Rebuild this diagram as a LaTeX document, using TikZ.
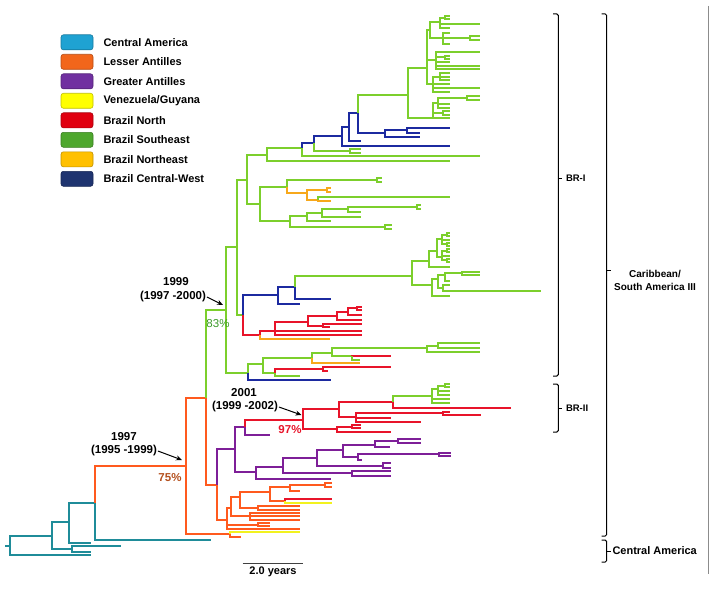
\documentclass[tikz,border=0pt]{standalone}
\usepackage{fontspec}
\setmainfont{Liberation Sans}
\usetikzlibrary{arrows.meta}

\definecolor{camC}{HTML}{1F8C99}
\definecolor{lantC}{HTML}{FF5A1E}
\definecolor{gantC}{HTML}{7E1F98}
\definecolor{venguC}{HTML}{F2F21E}
\definecolor{brnC}{HTML}{E8142A}
\definecolor{brseC}{HTML}{7CCF2C}
\definecolor{brneC}{HTML}{F7A81B}
\definecolor{brcwC}{HTML}{1C2AA0}
\definecolor{keyCam}{HTML}{1FA2D2}
\definecolor{keyLant}{HTML}{F2661B}
\definecolor{keyGant}{HTML}{7030A0}
\definecolor{keyVengu}{HTML}{FFFF00}
\definecolor{keyBrn}{HTML}{E00010}
\definecolor{keyBrse}{HTML}{4EA72E}
\definecolor{keyBrne}{HTML}{FFC000}
\definecolor{keyBrcw}{HTML}{1F3470}
\definecolor{pct75}{HTML}{B4501E}
\definecolor{pct83}{HTML}{3C9A2A}

% one branch of the tree: elbow from parent to a new named node
\newcommand{\clade}[4]{\coordinate (#3) at (#4); \draw[#1] (#2) |- (#3);}
% a tip branch
\newcommand{\twig}[3]{\draw[#1] (#2) |- (#3);}

\begin{document}
\begin{tikzpicture}
            [x=1pt,y=-1pt,line width=2pt,
            cam/.style={color=camC},lant/.style={color=lantC},gant/.style={color=gantC},
            vengu/.style={color=venguC},brn/.style={color=brnC},brse/.style={color=brseC},
            brne/.style={color=brneC},brcw/.style={color=brcwC},
            keybox/.style={rectangle,rounded corners=2.5pt,minimum width=32pt,minimum height=15pt,line width=0.6pt},
            keytext/.style={anchor=west,inner sep=0pt,font=\bfseries\fontsize{11}{12}\selectfont},
            datelbl/.style={inner sep=0pt,font=\bfseries\fontsize{11.5}{13}\selectfont},
            datearrow/.style={-{Stealth[length=6pt,width=5pt]},line width=1pt,black},
            pct/.style={inner sep=0pt,font=\bfseries\fontsize{11.5}{13}\selectfont},
            bracket/.style={line width=1pt,black,rounded corners=1.5pt},
            grplbl/.style={inner sep=0pt,align=center,font=\bfseries\fontsize{10}{13}\selectfont}]
            \useasboundingbox (0,0) rectangle (714,591);
            % legend
            \foreach \col/\name [count=\i] in {keyCam/Central America,keyLant/Lesser Antilles,
                keyGant/Greater Antilles,keyVengu/{Venezuela/Guyana},keyBrn/Brazil North,
                keyBrse/Brazil Southeast,keyBrne/Brazil Northeast,keyBrcw/Brazil Central-West}
            {
                \node[keybox,fill=\col,draw=\col!75!black] (key\i) at (77,{22.8+19.5*\i}) {};
                \node[keytext] (keylbl\i) at (102.5,{22.8+19.5*\i}) {\name};
            }
            % Central America root
            \coordinate (root) at (10,546);
            \draw[cam] (5,546) -- (root);
            \clade{cam}{root}{c1}{52,536}
            \twig{cam}{root}{91,555}
            \clade{cam}{c1}{c2}{69,522}
            \clade{cam}{c1}{c3}{72,549}
            \twig{cam}{c3}{121,546}
            \twig{cam}{c3}{91,551.5}
            \clade{cam}{c2}{c4}{95,503}
            \twig{cam}{c2}{91,543}
            \clade{lant}{c4}{n97}{186,466}
            \twig{cam}{c4}{211,539.5}
            % Caribbean backbone
            \clade{lant}{n97}{l1}{206,398}
            \clade{lant}{n97}{l2}{230,534}
            \twig{vengu}{l2}{300,531.5}
            \twig{lant}{l2}{241,536.5}
            \clade{brse}{l1}{n99}{226,310}
            \clade{lant}{l1}{l3}{217,485}
            \clade{gant}{l3}{g1}{235,449}
            \clade{lant}{l3}{l4}{226.7,520}
            % Lesser Antilles
            \clade{lant}{l4}{l5}{231,508}
            \clade{lant}{l4}{l6}{258,524.5}
            \twig{lant}{l4}{300,528.5}
            \clade{lant}{l5}{l7}{240,497}
            \clade{lant}{l5}{l8}{250,516}
            \clade{lant}{l7}{l9}{270,492}
            \clade{lant}{l7}{l10}{258,507.5}
            \clade{lant}{l9}{l11}{290,487}
            \clade{lant}{l9}{l12}{285,500.5}
            \clade{lant}{l11}{l13}{325,484.8}
            \twig{lant}{l13}{331.7,482.5}
            \twig{lant}{l13}{331.7,487}
            \twig{lant}{l11}{300,490.5}
            \twig{brn}{l12}{331.7,498.5}
            \twig{vengu}{l12}{331.7,502.5}
            \twig{lant}{l10}{300,506}
            \twig{lant}{l10}{300,509.5}
            \twig{lant}{l8}{300,512.8}
            \twig{lant}{l8}{300,516.2}
            \twig{lant}{l8}{300,519.6}
            \twig{lant}{l6}{270,523}
            \twig{lant}{l6}{270,526}
            % Greater Antilles
            \clade{gant}{g1}{g2}{245,427}
            \clade{gant}{g1}{g3}{256,471.7}
            \clade{brn}{g2}{n01}{303.3,420}
            \twig{gant}{g2}{270,435}
            \clade{gant}{g3}{g4}{283.3,466.7}
            \twig{gant}{g3}{330.7,478.5}
            \clade{gant}{g4}{g5}{316.7,458.3}
            \clade{gant}{g4}{g6}{351.7,473.3}
            \clade{gant}{g5}{g7}{342.7,450}
            \clade{gant}{g5}{g8}{382.7,465.8}
            \clade{gant}{g7}{g9}{375,445}
            \clade{gant}{g7}{g10}{358,456.7}
            \clade{gant}{g9}{g11}{398.3,441}
            \twig{gant}{g11}{421,439.3}
            \twig{gant}{g11}{421,442.7}
            \twig{gant}{g9}{390,447.3}
            \clade{gant}{g10}{g12}{439.3,454.3}
            \twig{gant}{g12}{450.7,452.7}
            \twig{gant}{g12}{450.7,456}
            \twig{gant}{g10}{362,459.5}
            \twig{gant}{g8}{390.7,463.3}
            \twig{gant}{g8}{390.7,468.3}
            \twig{gant}{g6}{390.7,471.3}
            \twig{gant}{g6}{390.7,475.5}
            % BR-II
            \clade{brn}{n01}{r1}{339.3,409.3}
            \clade{brn}{n01}{r2}{337.3,429.3}
            \clade{brn}{r1}{r3}{393.3,401.7}
            \clade{brn}{r1}{r4}{356,417.3}
            \clade{brse}{r3}{r5}{431.7,395.7}
            \twig{brn}{r3}{510.7,408.3}
            \clade{brse}{r5}{r6}{438.3,389}
            \twig{brse}{r5}{450,398.5}
            \twig{brse}{r5}{450,402.5}
            \clade{brse}{r6}{r7}{445,385.5}
            \twig{brse}{r7}{450,384}
            \twig{brse}{r7}{450,387}
            \twig{brse}{r6}{450,391}
            \twig{brse}{r6}{450,394.5}
            \clade{brn}{r4}{r8}{443.3,413.3}
            \twig{brn}{r8}{450,411.7}
            \twig{brn}{r8}{481,415}
            \twig{brn}{r4}{390.7,418}
            \twig{brn}{r4}{420.7,421.5}
            \clade{brn}{r2}{r9}{351.7,426.5}
            \twig{brn}{r9}{361,425}
            \twig{brn}{r9}{361,428}
            \twig{brn}{r2}{390.7,432}
            % BR-I
            \clade{brse}{n99}{s1}{236.7,246.7}
            \clade{brse}{n99}{s2}{248.3,372.7}
            \clade{brse}{s1}{sm}{246.7,180}
            \clade{brse}{s1}{sn}{242.7,315}
            \clade{brse}{sm}{so}{266.7,155}
            \clade{brse}{sm}{sr}{260,204}
            \clade{brse}{so}{sp}{301.7,148.3}
            \twig{brse}{so}{450,160.7}
            \clade{brcw}{sp}{sq}{314.3,143.3}
            \twig{brse}{sp}{480,156}
            \clade{brcw}{sq}{sz}{342.3,136}
            \clade{brse}{sq}{sqf}{350,150.7}
            \twig{brse}{sqf}{361,149}
            \twig{brse}{sqf}{361,152.5}
            \clade{brcw}{sz}{sa}{349,126.7}
            \twig{brcw}{sz}{450,145.7}
            \clade{brcw}{sa}{sb}{358.3,113.3}
            \twig{brcw}{sa}{360.7,140.5}
            \clade{brse}{sb}{top}{408.3,95}
            \clade{brcw}{sb}{sd}{385,133.3}
            \clade{brcw}{sd}{se}{406.7,130}
            \twig{brcw}{se}{450,128.3}
            \twig{brcw}{se}{420,132.5}
            \twig{brcw}{sd}{420,136.7}
            % top Southeast clade
            \clade{brse}{top}{t1}{426.7,68}
            \clade{brse}{top}{t2}{433.3,118}
            \clade{brse}{t1}{t3}{430,30}
            \clade{brse}{t1}{t4}{436,60}
            \clade{brse}{t1}{t5}{433,84}
            \clade{brse}{t3}{t6}{440,22.5}
            \clade{brse}{t3}{t7}{442.7,38}
            \clade{brse}{t6}{t8}{445,18}
            \twig{brse}{t8}{450,16.5}
            \twig{brse}{t8}{450,19.5}
            \twig{brse}{t6}{480,24.3}
            \twig{brse}{t6}{450,28.3}
            \twig{brse}{t7}{450,32.7}
            \clade{brse}{t7}{t9}{470,38.5}
            \twig{brse}{t9}{480,36.5}
            \twig{brse}{t9}{480,40.5}
            \twig{brse}{t7}{450,44}
            \twig{brse}{t4}{480,52.5}
            \clade{brse}{t4}{t10}{445,57.5}
            \twig{brse}{t10}{450,56}
            \twig{brse}{t10}{450,59}
            \twig{brse}{t4}{450,62.5}
            \twig{brse}{t4}{480,66}
            \twig{brse}{t4}{480,69.5}
            \clade{brse}{t5}{t11}{440,77}
            \twig{brse}{t11}{450,73.5}
            \twig{brse}{t11}{450,77}
            \twig{brse}{t11}{450,80.5}
            \twig{brse}{t5}{450,84}
            \twig{brse}{t5}{480,88.5}
            \twig{brse}{t5}{450,92.5}
            \clade{brse}{t2}{t12}{438.3,103.5}
            \clade{brse}{t2}{t13}{443.3,113}
            \twig{brse}{t2}{450,118.5}
            \clade{brse}{t12}{t14}{466.7,98.5}
            \twig{brse}{t14}{480,96.5}
            \twig{brse}{t14}{480,100.5}
            \twig{brse}{t12}{450,104.5}
            \twig{brse}{t12}{450,108}
            \twig{brse}{t13}{450,111.5}
            \twig{brse}{t13}{450,115}
            % Southeast / Northeast clade
            \clade{brse}{sr}{ss}{286.7,187.3}
            \clade{brse}{sr}{sv}{290,220.7}
            \clade{brse}{ss}{ss1}{376.7,180}
            \twig{brse}{ss1}{381.7,178.3}
            \twig{brse}{ss1}{381.7,182}
            \clade{brne}{ss}{st}{306.7,193.3}
            \clade{brne}{st}{st1}{326.7,190}
            \twig{brne}{st1}{330.7,188.3}
            \twig{brne}{st1}{330.7,191.7}
            \clade{brne}{st}{su}{318.3,200}
            \twig{brse}{su}{450,196.7}
            \twig{brne}{su}{330.7,201}
            \clade{brse}{sv}{sw}{307.3,216}
            \clade{brse}{sv}{sv1}{385,226.7}
            \twig{brse}{sv1}{391.7,224.7}
            \twig{brse}{sv1}{391.7,228.7}
            \clade{brse}{sw}{sx}{321.7,213.3}
            \twig{brse}{sw}{330.7,220.7}
            \clade{brse}{sx}{sy}{348.3,209}
            \twig{brse}{sx}{361,216.7}
            \clade{brse}{sy}{sy1}{416.7,206.7}
            \twig{brse}{sy1}{420.7,204.7}
            \twig{brse}{sy1}{420.7,208.7}
            \twig{brse}{sy}{361,211.7}
            % Central-West / North clade
            \clade{brcw}{sn}{u1}{278.3,295}
            \clade{brn}{sn}{u2}{260,335}
            \clade{brcw}{u1}{u3}{295,287.3}
            \twig{brcw}{u1}{300,304}
            \clade{brse}{u3}{mid}{411.7,275.7}
            \twig{brcw}{u3}{330.7,299.3}
            \clade{brse}{mid}{m1}{429.3,260.7}
            \clade{brse}{mid}{m2}{431.7,285}
            \clade{brse}{m1}{m3}{436.7,251}
            \twig{brse}{m1}{450,267}
            \clade{brse}{m3}{m4}{441.7,239}
            \clade{brse}{m3}{m5}{441.7,257}
            \clade{brse}{m4}{m6}{446.7,234.5}
            \twig{brse}{m6}{450,233}
            \twig{brse}{m6}{450,236}
            \twig{brse}{m4}{450,239.5}
            \clade{brse}{m4}{m7}{446.7,244}
            \twig{brse}{m7}{450,242.5}
            \twig{brse}{m7}{450,245.5}
            \clade{brse}{m5}{m8}{446.7,250.5}
            \twig{brse}{m8}{450,249}
            \twig{brse}{m8}{450,252}
            \twig{brse}{m5}{450,255.5}
            \clade{brse}{m5}{m9}{446.7,260}
            \twig{brse}{m9}{450,258.5}
            \twig{brse}{m9}{450,261.5}
            \clade{brse}{m2}{m10}{438.3,279}
            \twig{brse}{m2}{450,296}
            \clade{brse}{m10}{m11}{445,275}
            \clade{brse}{m10}{m12}{443.3,288}
            \clade{brse}{m11}{m13}{461.7,273.3}
            \twig{brse}{m13}{480,271.7}
            \twig{brse}{m13}{480,275}
            \twig{brse}{m11}{450,280.5}
            \twig{brse}{m12}{450,285}
            \twig{brse}{m12}{540.7,291}
            \clade{brn}{u2}{u4}{275,330.7}
            \twig{brne}{u2}{330,339.3}
            \clade{brn}{u4}{u5}{308.3,321.7}
            \twig{brn}{u4}{361.7,330.7}
            \twig{brn}{u4}{361.7,335}
            \clade{brn}{u5}{u6}{336.7,316}
            \clade{brn}{u5}{u7}{322.7,325.5}
            \clade{brn}{u6}{u8}{348.3,311.7}
            \twig{brn}{u6}{361.7,320}
            \clade{brn}{u8}{u9}{356.7,308.3}
            \twig{brn}{u9}{361.7,306.7}
            \twig{brn}{u9}{361.7,310}
            \twig{brn}{u8}{361.7,315}
            \twig{brn}{u7}{361.7,323.5}
            \twig{brn}{u7}{330,327}
            % lower BR-I clade
            \clade{brse}{s2}{v1}{263.3,364}
            \twig{brcw}{s2}{330.7,380}
            \clade{brse}{v1}{v2}{311.7,358.3}
            \clade{brse}{v1}{v3}{275,372.7}
            \clade{brse}{v2}{v4}{331.7,352.7}
            \twig{brne}{v2}{360,362.7}
            \clade{brse}{v4}{v5}{426.7,348.3}
            \clade{brse}{v4}{v6}{351.7,356}
            \clade{brse}{v5}{v7}{438.3,345.5}
            \twig{brse}{v7}{480,343.3}
            \twig{brse}{v7}{480,347.5}
            \twig{brse}{v5}{480,351.5}
            \twig{brn}{v6}{390.7,355.5}
            \twig{brse}{v6}{360,359.5}
            \clade{brn}{v3}{v8}{323.3,368.5}
            \twig{brn}{v8}{390.7,366.7}
            \twig{brn}{v8}{328.3,370.5}
            \twig{brse}{v3}{300,375.5}
            % dates and support values
            \node[datelbl] (y97) at (124,437) {1997};
            \node[datelbl] (r97) at (124,451) {(1995 -1999)};
            \coordinate (a97) at (182,460);
            \draw[datearrow] (r97.east) -- (a97);
            \node[pct,text=pct75] (p75) at (170,477.5) {75\%};
            \node[datelbl] (y99) at (176,282) {1999};
            \node[datelbl] (r99) at (173,297) {(1997 -2000)};
            \coordinate (a99) at (223,305);
            \draw[datearrow] (r99.east) -- (a99);
            \node[pct,text=pct83,font=\fontsize{11.5}{13}\selectfont] (p83) at (218,324) {83\%};
            \node[datelbl] (y01) at (244,393) {2001};
            \node[datelbl] (r01) at (245,407) {(1999 -2002)};
            \coordinate (a01) at (301.5,415);
            \draw[datearrow] (r01.east) -- (a01);
            \node[pct,text=brnC] (p97) at (290,429.5) {97\%};
            % scale bar
            \coordinate (sb1) at (242.7,563.5);
            \coordinate (sb2) at (302.7,563.5);
            \draw[line width=1.2pt,black!75] (sb1) -- (sb2);
            \node[datelbl,font=\bfseries\fontsize{11}{12}\selectfont] (sblbl) at (273,572) {2.0 years};
            % groups
            \draw[bracket] (553,14) -- (558.3,14) -- (558.3,376) -- (553,376);
            \draw[bracket] (558.3,178) -- (562,178);
            \node[grplbl,anchor=west,font=\bfseries\fontsize{9.5}{12}\selectfont] (bri) at (565,178) {BR-I};
            \draw[bracket] (553,384) -- (558.3,384) -- (558.3,432) -- (553,432);
            \draw[bracket] (558.3,408) -- (562,408);
            \node[grplbl,anchor=west,font=\bfseries\fontsize{9.5}{12}\selectfont] (brii) at (565,408) {BR-II};
            \draw[bracket] (601.7,14) -- (606.7,14) -- (606.7,536) -- (601.7,536);
            \draw[bracket] (606.7,270) -- (611,270);
            \node[grplbl] (carib) at (655,280) {Caribbean/\\South America III};
            \draw[bracket] (601.7,540) -- (606.7,540) -- (606.7,562) -- (601.7,562);
            \draw[bracket] (606.7,551) -- (611,551);
            \node[grplbl,anchor=west,font=\bfseries\fontsize{11}{13}\selectfont] (camlbl) at (611.5,551) {Central America};
            \draw[line width=1.2pt,black!45] (708.5,6) -- (708.5,574);
        \end{tikzpicture}
\end{document}
